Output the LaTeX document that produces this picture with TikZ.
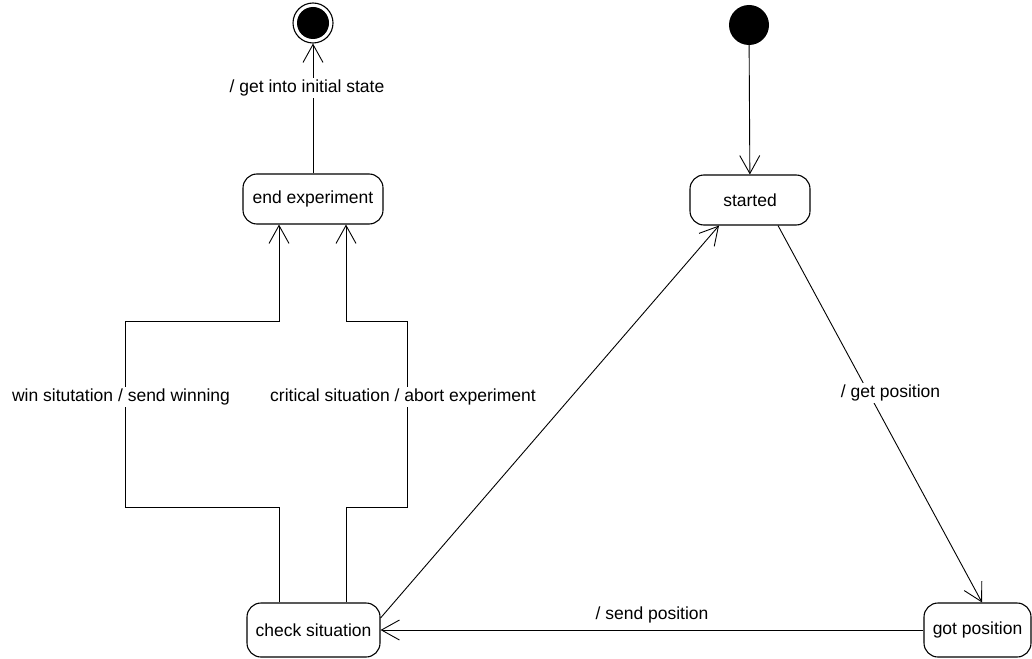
\documentclass[tikz,border=0pt]{standalone}
\usepackage{fontspec}
\setmainfont{Liberation Sans}
\usetikzlibrary{arrows.meta}
\begin{document}
\begin{tikzpicture}[x=1pt,y=-1pt,
  every node/.style={font=\fontsize{17.5}{21}\selectfont},
  statebox/.style={draw, rounded corners=14pt, line width=1.1pt,
    minimum height=50pt, inner sep=0pt},
  trans/.style={draw, line width=0.9pt,
    -{Straight Barb[length=18pt,width=20pt]}},
  lbl/.style={fill=white, inner sep=2pt}]
\useasboundingbox (0,0) rectangle (1032,658);
\clip (0,0) rectangle (1032,658);

% pseudo states
\node[circle, fill=black, minimum size=40pt, inner sep=0pt] (init) at (749,25) {};
\node[circle, draw, line width=1.1pt, minimum size=40pt, inner sep=0pt] (final) at (313,23) {};
\node[circle, fill=black, minimum size=32pt, inner sep=0pt] (finaldot) at (final.center) {};

% states
\node[statebox, minimum width=140pt] (endexp) at (313,199) {end experiment};
\node[statebox, minimum width=120pt] (started) at (750,200) {started};
\node[statebox, minimum width=133pt, minimum height=54pt] (check) at (313.5,630) {check situation};
\node[statebox, minimum width=107pt, minimum height=54pt] (got) at (977.5,630) {got position};

% transitions
\draw[trans] (init) -- (started);
\draw[trans] (endexp.north) -- node[lbl, pos=0.66, xshift=-6pt] {/ get into initial state} (final);

\draw[trans] ([xshift=-34.5pt]check.north) |- (125,507)
  -- node[lbl, pos=0.59, xshift=-4pt] {win situtation / send winning} (125,321)
  -| ([xshift=-34pt]endexp.south);
\draw[trans] ([xshift=32.5pt]check.north) |- (407,507)
  -- node[lbl, pos=0.59, xshift=-4pt] {critical situation / abort experiment} (407,321)
  -| ([xshift=33pt]endexp.south);

\draw[trans] ([yshift=12pt]check.east) -- ([xshift=-31pt]started.south);
\draw[trans] ([xshift=28pt]started.south) -- node[lbl, pos=0.444, xshift=22pt] {/ get position} ([xshift=4.5pt]got.north);
\draw[trans] (got.west) -- node[midway, yshift=15pt, inner sep=0pt] {/ send position} (check.east);
\end{tikzpicture}
\end{document}
